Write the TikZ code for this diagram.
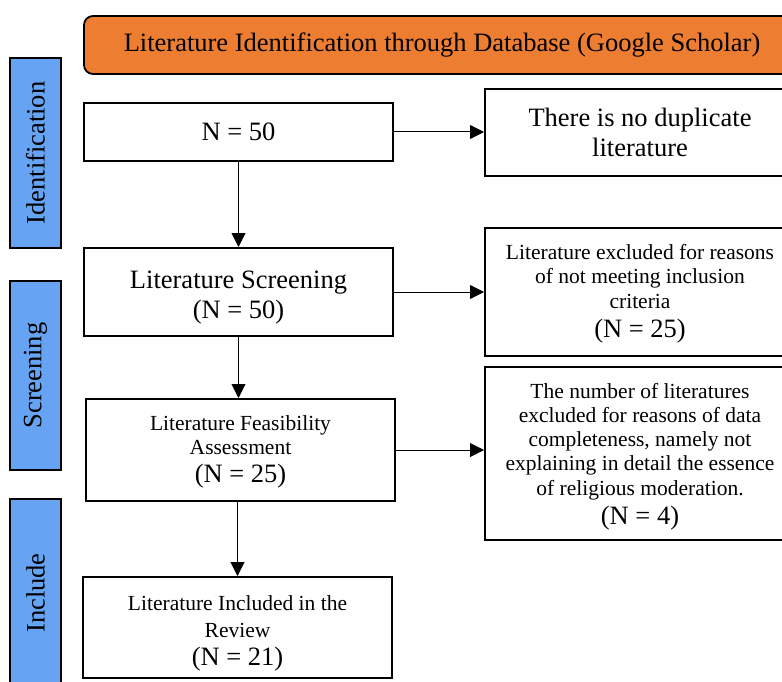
\documentclass[tikz,border=0pt]{standalone}
\usepackage{fontspec}
\setmainfont{Liberation Serif}
\usetikzlibrary{arrows.meta}
\definecolor{orng}{HTML}{ED7D31}
\definecolor{sideblue}{HTML}{66A3F2}
\newcommand{\bigf}{\fontsize{26.5}{31}\selectfont}
\newcommand{\smf}{\fontsize{21.5}{24.5}\selectfont}
\newcommand{\lift}[1]{\rule{0pt}{#1pt}}
\begin{document}
\begin{tikzpicture}[x=1pt,y=-1pt,
  flowbox/.style={draw=black, line width=2pt, fill=white, align=center, inner sep=0pt},
  sidebar/.style={draw=black, line width=2.8pt, fill=sideblue, rotate=90, minimum height=51pt, inner sep=0pt, font=\bigf},
  banner/.style={draw=black, line width=1.8pt, fill=orng, rounded corners=9pt, minimum width=716pt, minimum height=58pt, inner sep=0pt, font=\bigf},
  flowarrow/.style={draw=black, line width=1pt, -{Triangle[length=14pt,width=14pt]}}]
\useasboundingbox (0,0) rectangle (782,682);
\clip (0,0) rectangle (782,682);
% banner
\node[banner] (top) at (442,45) {Literature Identification through Database (Google Scholar)};
% side bars
\node[sidebar, minimum width=190pt] (sid) at (35.5,153) {Identification};
\node[sidebar, minimum width=189pt] (sscr) at (35.5,375.5) {Screening};
\node[sidebar, minimum width=188pt] (sinc) at (35.5,593) {Include};
% left column
\node[flowbox, minimum width=309pt, minimum height=58pt, font=\bigf] (b1) at (238.5,132) {N = 50};
\node[flowbox, minimum width=309pt, minimum height=88pt, font=\fontsize{26.5}{30}\selectfont] (b2) at (238.5,292) {\lift{28}Literature Screening\\(N = 50)};
\node[flowbox, minimum width=309pt, minimum height=102pt, font=\fontsize{21.5}{24}\selectfont] (b3) at (240.5,450) {\lift{18}Literature Feasibility\\Assessment\\[4pt]\bigf (N = 25)};
\node[flowbox, minimum width=309pt, minimum height=101pt, font=\fontsize{21.5}{27.5}\selectfont] (b4) at (237.5,627.5) {\lift{26}Literature Included in the\\Review\\\bigf (N = 21)};
% right column
\node[flowbox, minimum width=310pt, minimum height=87pt, font=\fontsize{26.5}{30}\selectfont] (r1) at (640,132.5) {There is no duplicate\\literature};
\node[flowbox, minimum width=310pt, minimum height=128pt, font=\smf] (r2) at (640,292) {\lift{18}Literature excluded for reasons\\of not meeting inclusion\\criteria\\[4.5pt]\bigf (N = 25)};
\node[flowbox, minimum width=310pt, minimum height=173pt, font=\fontsize{21.5}{24.3}\selectfont] (r3) at (640,453.5) {\lift{21}The number of literatures\\excluded for reasons of data\\completeness, namely not\\explaining in detail the essence\\of religious moderation.\\[4.7pt]\bigf (N = 4)};
% arrows
\draw[flowarrow] (b1.east) -- (b1.east -| r1.west);
\draw[flowarrow] (b2.east) -- (b2.east -| r2.west);
\draw[flowarrow] (b3.east) -- (b3.east -| r3.west);
\draw[flowarrow] (b1.south) -- (b2.north);
\draw[flowarrow] (b2.south) -- (b2.south |- b3.north);
\draw[flowarrow] (b4.north |- b3.south) -- (b4.north);
\end{tikzpicture}
\end{document}
